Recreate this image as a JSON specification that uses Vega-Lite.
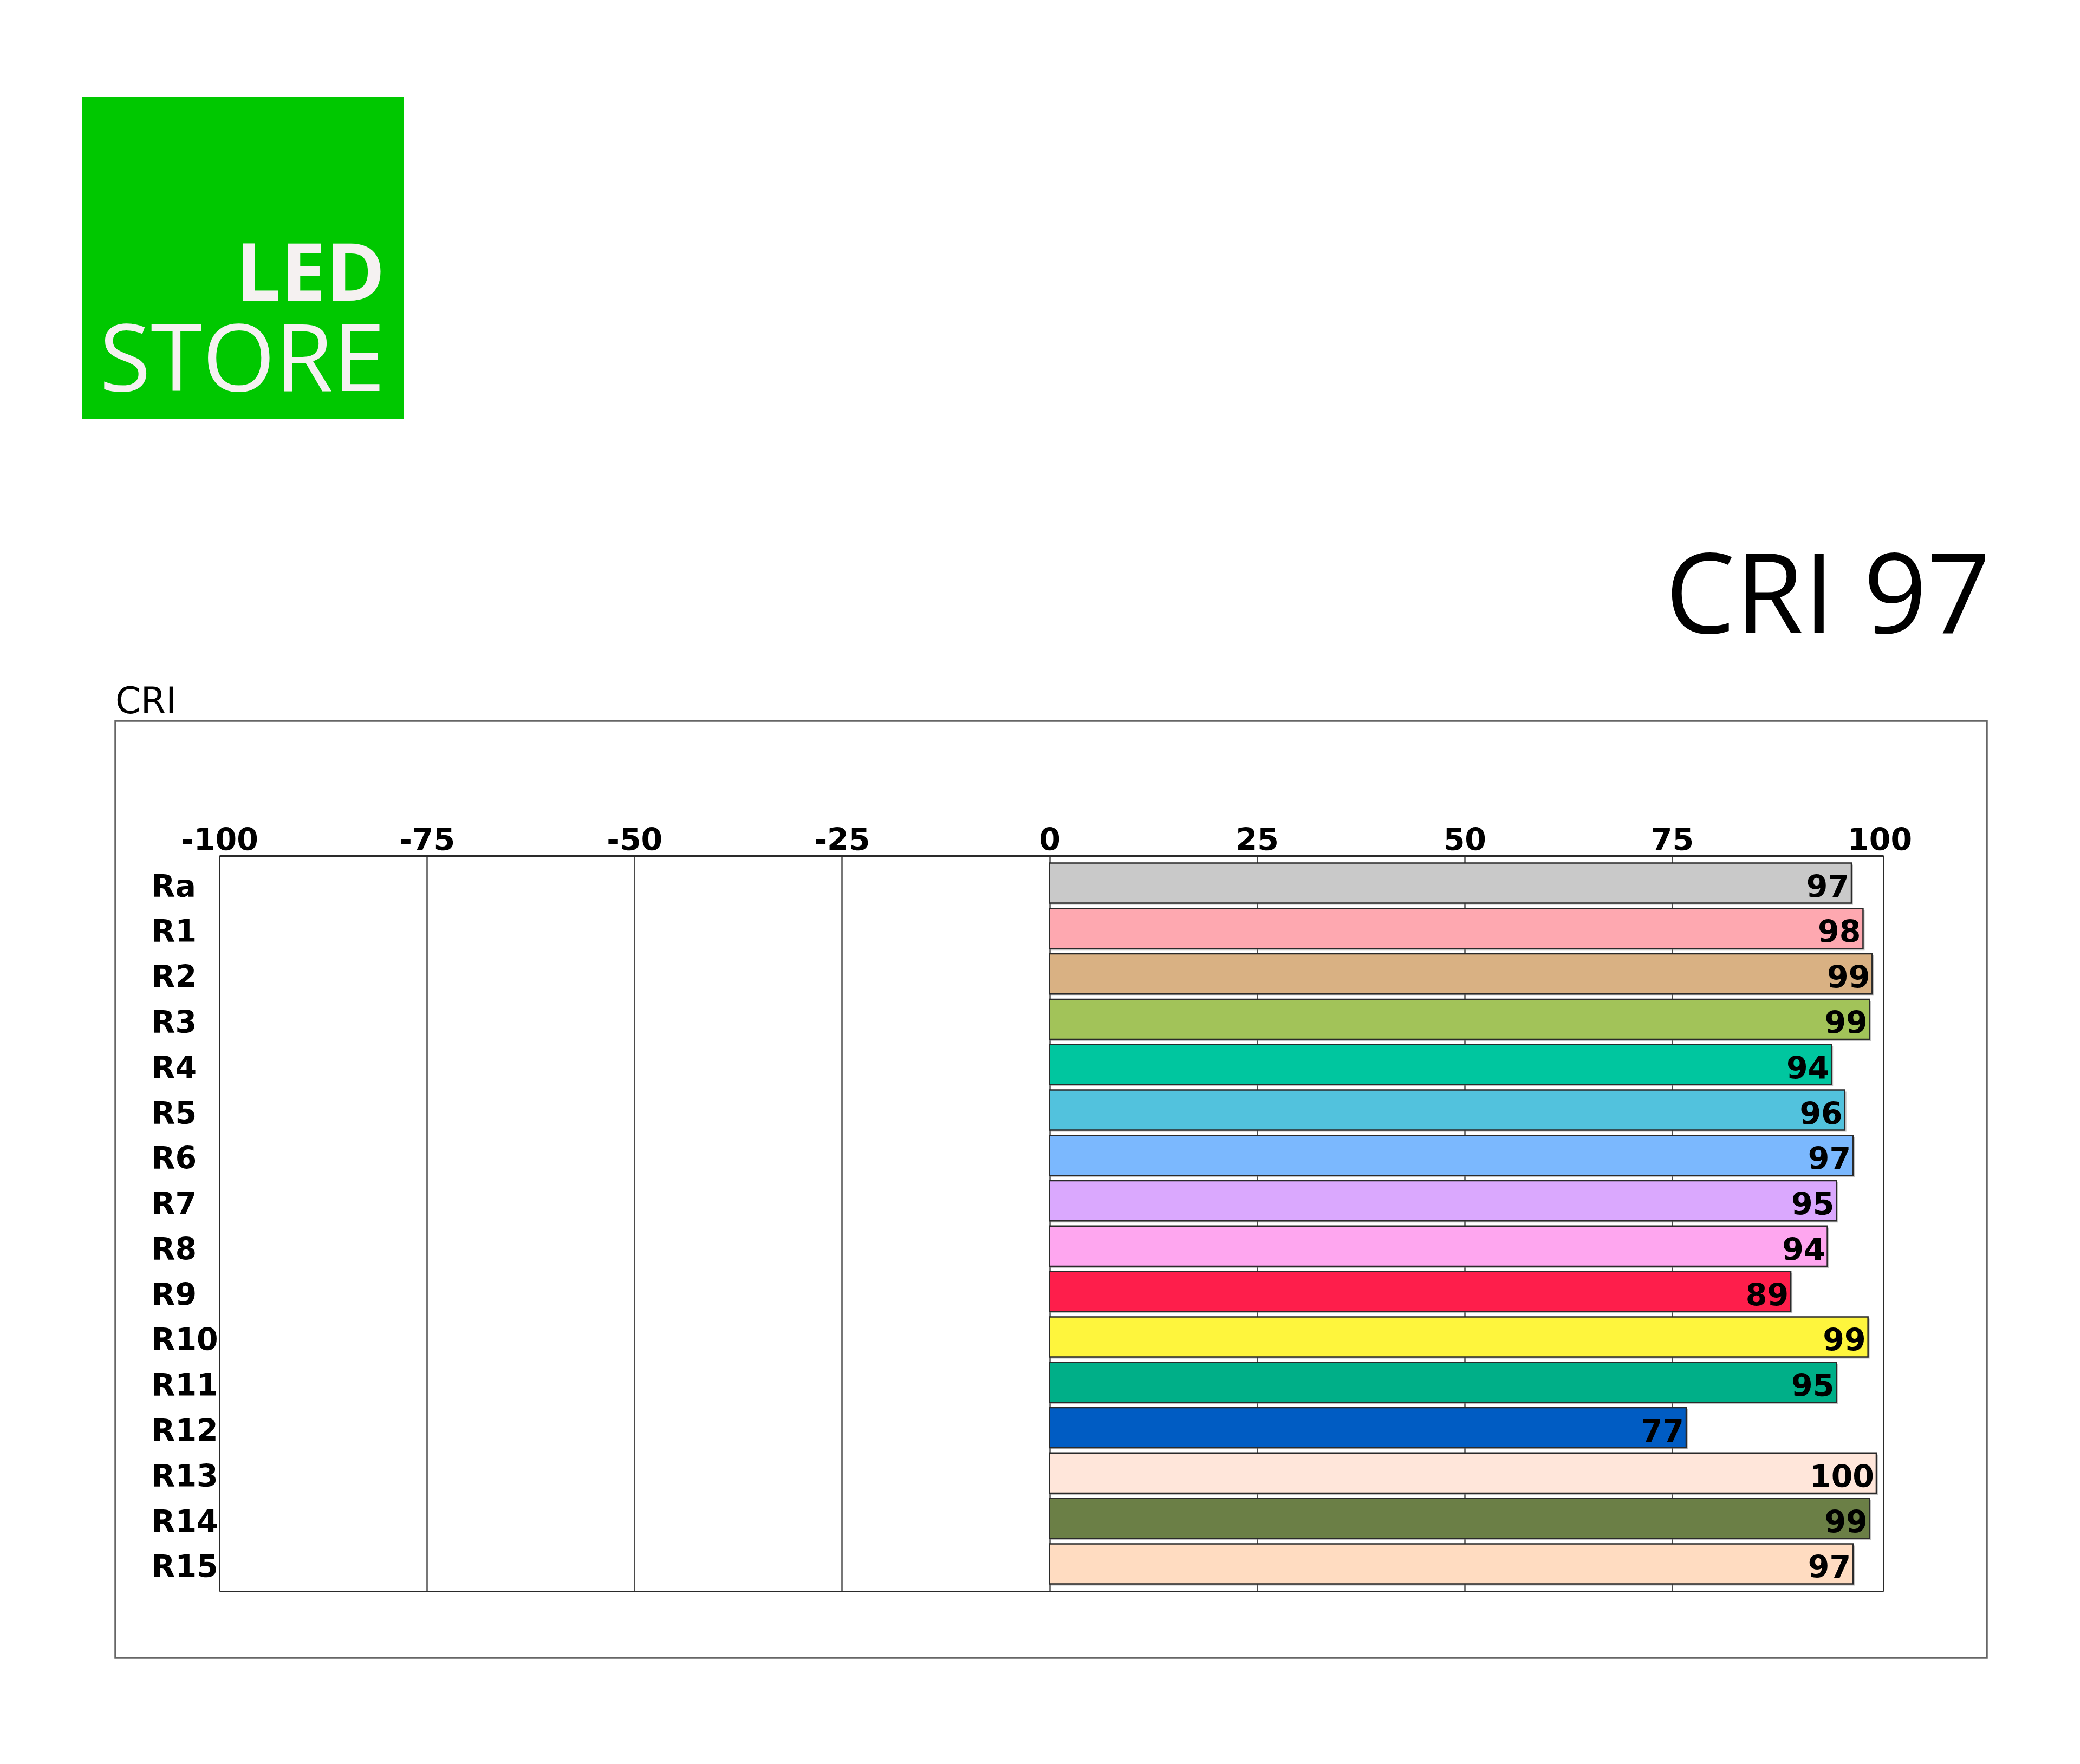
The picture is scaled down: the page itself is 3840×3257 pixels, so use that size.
{
  "$schema": "https://vega.github.io/schema/vega-lite/v6.json",
  "background": "white",
  "padding": {"left": 152, "top": 179, "right": 0, "bottom": 0},
  "autosize": {"type": "pad"},
  "config": {"view": {"stroke": null}},
  "spacing": 232,
  "vconcat": [
    {
      "width": 594,
      "height": 594,
      "view": {"fill": "#00C800", "stroke": null},
      "data": {"values": [{"word": "LED"}, {"word": "STORE"}]},
      "encoding": {
        "y": {"field": "word", "type": "nominal", "scale": {"type": "point", "range": [375.5, 542.6], "padding": 0}, "axis": null}
      },
      "layer": [
        {
          "transform": [{"filter": "datum.word === 'LED'"}],
          "mark": {"type": "text", "font": "Open Sans", "fontWeight": "bold", "fontSize": 148, "align": "right", "baseline": "alphabetic", "dx": 262, "color": "#F5F1F1"},
          "encoding": {"text": {"field": "word"}}
        },
        {
          "transform": [{"filter": "datum.word === 'STORE'"}],
          "mark": {"type": "text", "font": "Open Sans", "fontWeight": "normal", "fontSize": 173, "align": "right", "baseline": "alphabetic", "dx": 262, "color": "#F5F1F1"},
          "encoding": {"text": {"field": "word"}}
        }
      ]
    },
    {
      "title": {"text": "CRI 97", "anchor": "end", "frame": "bounds", "font": "Open Sans", "fontSize": 205, "fontWeight": "normal", "color": "#000000", "offset": 49, "dx": 5},
      "spacing": 0,
      "hconcat": [
        {"width": 59, "height": 1, "data": {"values": []}, "mark": "rect", "view": {"stroke": null}},
        {
          "width": 3455,
          "height": 1730,
          "view": {"stroke": "#666666", "strokeWidth": 3.5},
          "title": {"text": "CRI", "anchor": "start", "frame": "group", "font": "DejaVu Sans", "fontSize": 67, "fontWeight": "normal", "color": "#000000", "offset": 0, "dx": 0},
          "data": {"values": [
            {"name": "Ra", "value": 96.6},
            {"name": "R1", "value": 98.0},
            {"name": "R2", "value": 99.1},
            {"name": "R3", "value": 98.8},
            {"name": "R4", "value": 94.2},
            {"name": "R5", "value": 95.8},
            {"name": "R6", "value": 96.8},
            {"name": "R7", "value": 94.8},
            {"name": "R8", "value": 93.7},
            {"name": "R9", "value": 89.3},
            {"name": "R10", "value": 98.6},
            {"name": "R11", "value": 94.8},
            {"name": "R12", "value": 76.7},
            {"name": "R13", "value": 99.6},
            {"name": "R14", "value": 98.8},
            {"name": "R15", "value": 96.8}
          ]},
          "layer": [
            {
              "mark": {"type": "bar", "fill": "#7a7a7a", "opacity": 0.45, "xOffset": 3, "yOffset": 3},
              "encoding": {
                "x": {"field": "value", "type": "quantitative", "scale": {"domain": [-100, 100.45], "range": [192, 3264], "nice": false, "zero": false},
                  "axis": {"orient": "top", "offset": 0, "values": [-75, -50, -25, 0, 25, 50, 75], "title": null, "labels": false, "ticks": false, "tickSize": 0, "domain": false, "grid": true, "gridColor": "#4a4a4a", "gridWidth": 2.5}},
                "y": {"field": "name", "type": "nominal", "sort": null, "scale": {"range": [249, 1607], "paddingInner": 0.116, "paddingOuter": 0.161}, "axis": null}
              }
            },
            {
              "mark": {"type": "bar", "stroke": "#2a2a2a", "strokeWidth": 2.5},
              "encoding": {
                "x": {"field": "value", "type": "quantitative",
                  "axis": {"orient": "top", "offset": -249, "values": [-100, -75, -50, -25, 0, 25, 50, 75, 100], "labelExpr": "'' + datum.value", "title": null, "grid": false, "ticks": false, "tickSize": 0, "domain": true, "domainColor": "#2a2a2a", "domainWidth": 3, "labelFont": "DejaVu Sans", "labelFontWeight": "bold", "labelFontSize": 57, "labelColor": "#000000", "labelBaseline": "alphabetic", "labelPadding": 11, "labelFlush": false, "labelOverlap": false}},
                "y": {"field": "name", "type": "nominal", "sort": null,
                  "axis": {"orient": "left", "offset": -192, "title": null, "grid": false, "ticks": false, "tickSize": 0, "domain": true, "domainColor": "#2a2a2a", "domainWidth": 3, "labelFont": "DejaVu Sans", "labelFontWeight": "bold", "labelFontSize": 57, "labelColor": "#000000", "labelAlign": "left", "labelBaseline": "alphabetic", "labelOffset": 25, "labelPadding": 126}},
                "color": {"field": "name", "type": "nominal", "legend": null,
                  "scale": {"domain": ["Ra", "R1", "R2", "R3", "R4", "R5", "R6", "R7", "R8", "R9", "R10", "R11", "R12", "R13", "R14", "R15"],
                            "range": ["#C9C9C9", "#FEA8B0", "#D9B183", "#A2C359", "#00C69F", "#52C2DD", "#7BB8FE", "#DAA8FE", "#FEA6EF", "#FE1E4B", "#FEF53D", "#00AF88", "#005CC3", "#FFE6DA", "#6B7F46", "#FFDCC1"]}}
              }
            },
            {
              "mark": {"type": "text", "font": "DejaVu Sans", "fontWeight": "bold", "fontSize": 57, "align": "right", "baseline": "alphabetic", "dx": -4, "dy": 26, "color": "#000000"},
              "encoding": {
                "x": {"field": "value", "type": "quantitative",
                  "axis": {"orient": "bottom", "offset": -123, "values": [0], "title": null, "labels": false, "ticks": false, "tickSize": 0, "grid": false, "domain": true, "domainColor": "#2a2a2a", "domainWidth": 3}},
                "y": {"field": "name", "type": "nominal", "sort": null,
                  "axis": {"orient": "right", "offset": -191, "title": null, "labels": false, "ticks": false, "tickSize": 0, "grid": false, "domain": true, "domainColor": "#2a2a2a", "domainWidth": 3}},
                "text": {"field": "value", "type": "quantitative", "format": ".0f"}
              }
            }
          ],
          "resolve": {"axis": {"x": "independent", "y": "independent"}}
        }
      ]
    }
  ]
}
